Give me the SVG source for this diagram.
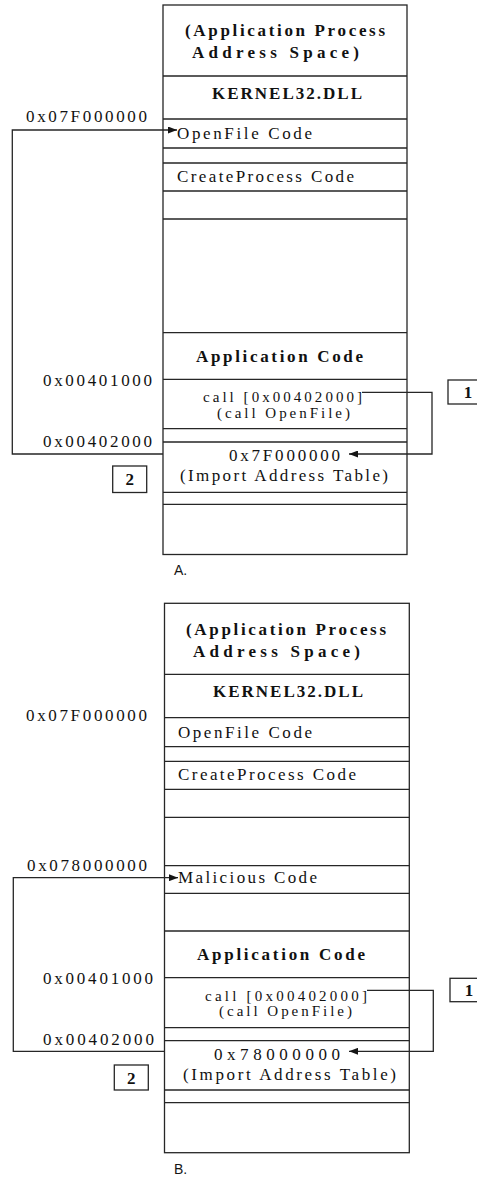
<svg xmlns="http://www.w3.org/2000/svg" width="477" height="1180" viewBox="0 0 477 1180">
  <style>
    .ln { stroke: #262626; stroke-width: 1.3; fill: none; }
    .t { font-family: "Liberation Serif", "Times New Roman", serif; font-size: 17px; fill: #111; }
    .sm { font-size: 15px; }
    .b { font-weight: bold; }
    .c { text-anchor: middle; }
    .s { font-family: "Liberation Sans", Arial, sans-serif; font-size: 14px; fill: #151515; }
    .badge { fill: #fff; stroke: #262626; stroke-width: 1.3; }
  </style>
  <defs>
    <marker id="arrow" markerUnits="userSpaceOnUse" markerWidth="9" markerHeight="7" refX="9" refY="3.5" orient="auto">
      <path d="M0,0 L9,3.5 L0,7 Z" fill="#151515"/>
    </marker>
  </defs>
  <rect width="477" height="1180" fill="#fff"/>

  <!-- Panel A: normal import resolution -->
  <g id="panelA">
    <g id="A-memory">
      <rect class="ln" x="163" y="5" width="244" height="549.5"/>
      <path class="ln" d="M163,76 H407 M163,119 H407 M163,148 H407 M163,163 H407 M163,191 H407 M163,219 H407 M163,332.7 H407 M163,379.3 H407 M163,428.7 H407 M163,442 H407 M163,492.3 H407 M163,504.3 H407"/>
      <text class="t b" x="185" y="36" textLength="200" lengthAdjust="spacing">(Application Process</text>
      <text class="t b" x="192" y="58" textLength="167" lengthAdjust="spacing">Address Space)</text>
      <text class="t b" x="212" y="99" textLength="150" lengthAdjust="spacing">KERNEL32.DLL</text>
      <text class="t" x="177" y="139" textLength="135" lengthAdjust="spacing">OpenFile Code</text>
      <text class="t" x="177" y="182" textLength="177" lengthAdjust="spacing">CreateProcess Code</text>
      <text class="t b" x="196" y="362" textLength="167" lengthAdjust="spacing">Application Code</text>
      <text class="t sm" x="203" y="402" textLength="159" lengthAdjust="spacing">call [0x00402000]</text>
      <text class="t sm" x="217" y="417.5" textLength="133" lengthAdjust="spacing">(call OpenFile)</text>
      <text class="t" x="229" y="461" textLength="111" lengthAdjust="spacing">0x7F000000</text>
      <text class="t" x="180" y="481" textLength="208" lengthAdjust="spacing">(Import Address Table)</text>
    </g>
    <g id="A-addresses">
      <text class="t" x="26" y="122" textLength="121" lengthAdjust="spacing">0x07F000000</text>
      <text class="t" x="43" y="386" textLength="109" lengthAdjust="spacing">0x00401000</text>
      <text class="t" x="43" y="447" textLength="109" lengthAdjust="spacing">0x00402000</text>
    </g>
    <g id="A-step1">
      <rect class="badge" x="448" y="380" width="40" height="24"/>
      <text class="t b c" x="468" y="397.5">1</text>
    </g>
    <g id="A-step2">
      <rect class="badge" x="112.7" y="466" width="34" height="26.5"/>
      <text class="t b c" x="129.7" y="485">2</text>
    </g>
    <text id="A-caption" class="s" x="174" y="575">A.</text>
  </g>

  <!-- Panel B: import table entry redirected -->
  <g id="panelB" transform="translate(0,598)">
    <g id="B-memory">
      <rect class="ln" x="164.5" y="5.3" width="244.8" height="549.4"/>
      <path class="ln" d="M164.5,76.3 H409.3 M164.5,119.7 H409.3 M164.5,148.7 H409.3 M164.5,163.3 H409.3 M164.5,191.3 H409.3 M164.5,219.3 H409.3 M164.5,267.7 H409.3 M164.5,295.3 H409.3 M164.5,333 H409.3 M164.5,379.7 H409.3 M164.5,429.7 H409.3 M164.5,442.7 H409.3 M164.5,492 H409.3 M164.5,504.7 H409.3"/>
      <text class="t b" x="186" y="36.5" textLength="200" lengthAdjust="spacing">(Application Process</text>
      <text class="t b" x="193" y="58.5" textLength="167" lengthAdjust="spacing">Address Space)</text>
      <text class="t b" x="213" y="99" textLength="150" lengthAdjust="spacing">KERNEL32.DLL</text>
      <text class="t" x="178" y="139.5" textLength="134" lengthAdjust="spacing">OpenFile Code</text>
      <text class="t" x="178" y="182" textLength="178" lengthAdjust="spacing">CreateProcess Code</text>
      <text class="t" x="178" y="285.3" textLength="139" lengthAdjust="spacing">Malicious Code</text>
      <text class="t b" x="197" y="362" textLength="168" lengthAdjust="spacing">Application Code</text>
      <text class="t sm" x="205" y="402.5" textLength="162" lengthAdjust="spacing">call [0x00402000]</text>
      <text class="t sm" x="219" y="418" textLength="133" lengthAdjust="spacing">(call OpenFile)</text>
      <text class="t" x="214" y="462" textLength="126" lengthAdjust="spacing">0x78000000</text>
      <text class="t" x="183" y="482" textLength="213" lengthAdjust="spacing">(Import Address Table)</text>
    </g>
    <g id="B-addresses">
      <text class="t" x="26" y="122.7" textLength="121" lengthAdjust="spacing">0x07F000000</text>
      <text class="t" x="27" y="273" textLength="120" lengthAdjust="spacing">0x078000000</text>
      <text class="t" x="43" y="385.5" textLength="110" lengthAdjust="spacing">0x00401000</text>
      <text class="t" x="43" y="447" textLength="111" lengthAdjust="spacing">0x00402000</text>
    </g>
    <g id="B-step1">
      <rect class="badge" x="450" y="380.3" width="40" height="23.4"/>
      <text class="t b c" x="469" y="398">1</text>
    </g>
    <g id="B-step2">
      <rect class="badge" x="114.3" y="467" width="34" height="25"/>
      <text class="t b c" x="131.3" y="485.5">2</text>
    </g>
    <text id="B-caption" class="s" x="174" y="576">B.</text>
  </g>

  <!-- Connectors -->
  <g id="connectors">
    <!-- A: call reads IAT slot, IAT points at OpenFile -->
    <path class="ln" d="M362,392.3 H432 V454 H349" marker-end="url(#arrow)"/>
    <path class="ln" d="M163,454 H12.3 V130 H177" marker-end="url(#arrow)"/>
    <!-- B: call reads IAT slot, IAT now points at injected code -->
    <path class="ln" d="M367,990.3 H433.3 V1051.3 H349" marker-end="url(#arrow)"/>
    <path class="ln" d="M164.5,1051.3 H13.3 V877.7 H178" marker-end="url(#arrow)"/>
  </g>
</svg>
